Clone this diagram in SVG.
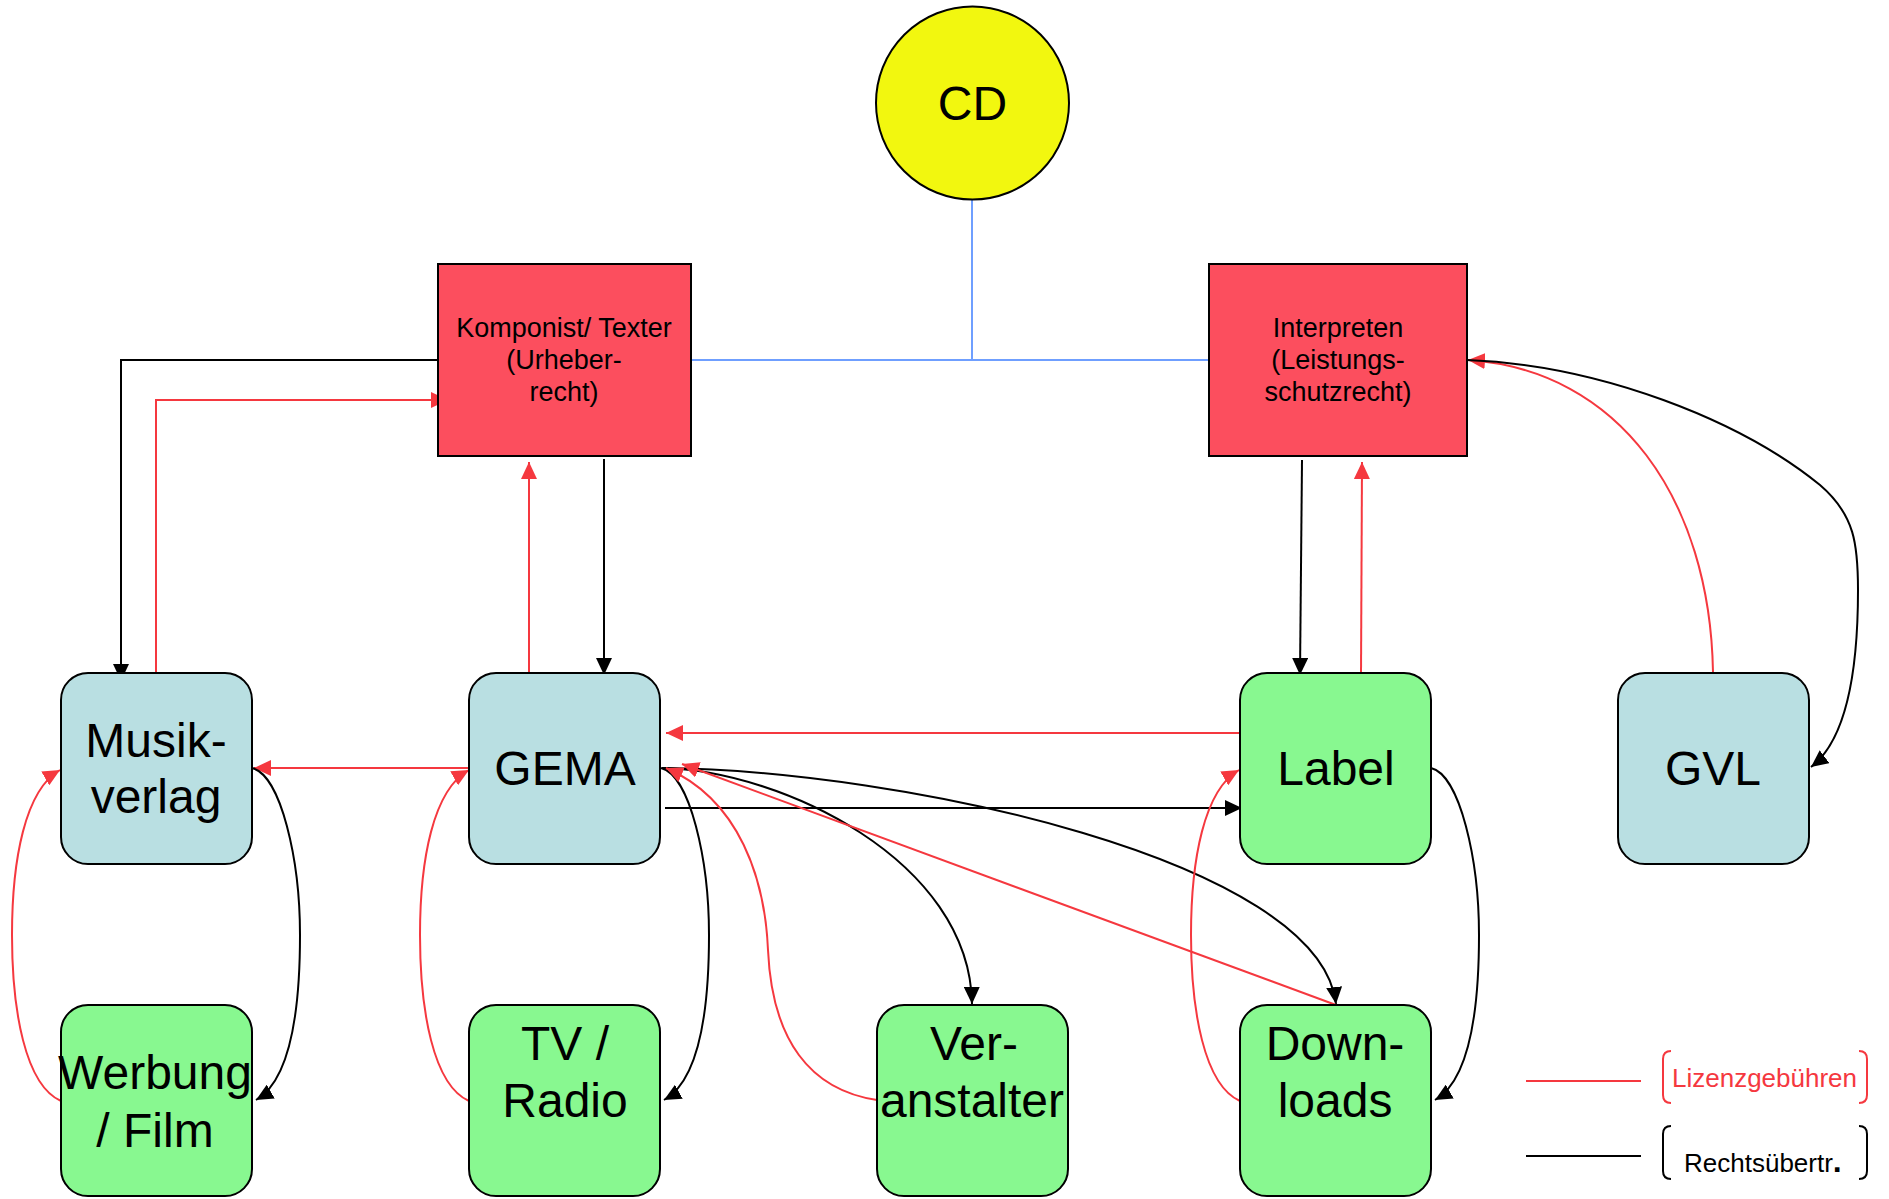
<svg xmlns="http://www.w3.org/2000/svg" width="1889" height="1199" viewBox="0 0 1889 1199">
<defs>
<style>
.t{font-family:"Liberation Sans",Arial,sans-serif;text-anchor:middle;fill:#000}
.big{font-size:48px}
.sm{font-size:27px}
.box{stroke:#000;stroke-width:2}
.blue{fill:#b9dfe2}
.green{fill:#88f890}
.redf{fill:#fc4e5e}
.k{fill:none;stroke:#000;stroke-width:2}
.r{fill:none;stroke:#f5383f;stroke-width:2}
.ka{marker-end:url(#ab)}
.ra{marker-end:url(#ar)}
</style>
<marker id="ab" viewBox="0 0 17 16" refX="17" refY="8" markerWidth="17" markerHeight="16" markerUnits="userSpaceOnUse" orient="auto"><path d="M0,0 L17,8 L0,16 z" fill="#000"/></marker>
<marker id="ar" viewBox="0 0 17 16" refX="17" refY="8" markerWidth="17" markerHeight="16" markerUnits="userSpaceOnUse" orient="auto"><path d="M0,0 L17,8 L0,16 z" fill="#f5383f"/></marker>
</defs>
<rect width="1889" height="1199" fill="#fff"/>

<g id="connectors">
<path d="M972,199 L972,360 M691,360 L1209,360" fill="none" stroke="#6f9fff" stroke-width="2"/>
<path class="k ka" d="M438,360 L121,360 L121,681"/>
<path class="r ra" d="M156,672 L156,400 L448,400"/>
<path class="r ra" d="M529,676 L529,462"/>
<path class="k ka" d="M604,459 L604,675"/>
<path class="k ka" d="M1302,460 L1300,675"/>
<path class="r ra" d="M1361,677 L1362,462"/>
<path class="r ra" d="M1713,672 C1710,500 1620,370 1468,360"/>
<path class="k ka" d="M1467,360 C1600,365 1740,420 1820,485 C1855,515 1858,545 1858,590 C1858,690 1840,745 1811,767"/>
<path class="r ra" d="M1243,733 L666,733"/>
<path class="r ra" d="M468,768 L254,768"/>
<path class="k ka" d="M252,768 C281,775 300,860 300,935 C300,1010 291,1080 256,1100"/>
<path class="r ra" d="M61,1101 C25,1085 12,1010 12,935 C12,860 25,790 60,770"/>
<path class="k ka" d="M661,768 C690,775 709,860 709,935 C709,1010 700,1080 664,1100"/>
<path class="r ra" d="M469,1101 C433,1085 420,1010 420,935 C420,860 433,790 469,770"/>
<path class="k ka" d="M665,808 L1242,808"/>
<path class="k ka" d="M662,768 C780,770 970,860 972,1004"/>
<path class="k ka" d="M662,768 C900,770 1320,860 1336,1004"/>
<path class="r ra" d="M877,1100 C810,1090 772,1040 768,950 C765,880 740,800 666,768"/>
<path class="r ra" d="M1336,1005 L682,764"/>
<path class="k ka" d="M1431,768 C1460,775 1479,860 1479,935 C1479,1010 1470,1080 1435,1100"/>
<path class="r ra" d="M1240,1101 C1204,1085 1191,1010 1191,935 C1191,860 1204,790 1239,770"/>
</g>

<g id="cd">
<circle cx="972.5" cy="103" r="96.5" fill="#f2f70f" class="box"/>
<text class="t" x="972.5" y="120" font-size="48">CD</text>
</g>

<g id="komponist">
<rect x="438" y="264" width="253" height="192" class="box redf"/>
<text class="t sm" x="564" y="337">Komponist/ Texter</text>
<text class="t sm" x="564" y="369">(Urheber-</text>
<text class="t sm" x="564" y="401">recht)</text>
</g>

<g id="interpreten">
<rect x="1209" y="264" width="258" height="192" class="box redf"/>
<text class="t sm" x="1338" y="337">Interpreten</text>
<text class="t sm" x="1338" y="369">(Leistungs-</text>
<text class="t sm" x="1338" y="401">schutzrecht)</text>
</g>

<g id="musikverlag">
<rect x="61" y="673" width="191" height="191" rx="27" class="box blue"/>
<text class="t big" x="156" y="757">Musik-</text>
<text class="t big" x="156" y="813">verlag</text>
</g>

<g id="gema">
<rect x="469" y="673" width="191" height="191" rx="27" class="box blue"/>
<text class="t big" x="565" y="785">GEMA</text>
</g>

<g id="label">
<rect x="1240" y="673" width="191" height="191" rx="27" class="box green"/>
<text class="t big" x="1336" y="785">Label</text>
</g>

<g id="gvl">
<rect x="1618" y="673" width="191" height="191" rx="27" class="box blue"/>
<text class="t big" x="1713" y="785">GVL</text>
</g>

<g id="werbung">
<rect x="61" y="1005" width="191" height="191" rx="27" class="box green"/>
<text class="t big" x="155" y="1089">Werbung</text>
<text class="t big" x="155" y="1147">/ Film</text>
</g>

<g id="tvradio">
<rect x="469" y="1005" width="191" height="191" rx="27" class="box green"/>
<text class="t big" x="565" y="1060">TV /</text>
<text class="t big" x="565" y="1117">Radio</text>
</g>

<g id="veranstalter">
<rect x="877" y="1005" width="191" height="191" rx="27" class="box green"/>
<text class="t big" x="974" y="1060">Ver-</text>
<text class="t big" x="972" y="1117">anstalter</text>
</g>

<g id="downloads">
<rect x="1240" y="1005" width="191" height="191" rx="27" class="box green"/>
<text class="t big" x="1335" y="1060">Down-</text>
<text class="t big" x="1335" y="1117">loads</text>
</g>

<g id="legend">
<path d="M1526,1081 L1641,1081" stroke="#f5383f" stroke-width="2"/>
<path d="M1526,1156 L1641,1156" stroke="#000" stroke-width="2"/>
<path d="M1671,1051 Q1663,1051 1663,1059 L1663,1095 Q1663,1103 1671,1103 M1859,1051 Q1867,1051 1867,1059 L1867,1095 Q1867,1103 1859,1103" fill="none" stroke="#f5383f" stroke-width="2"/>
<path d="M1671,1126 Q1663,1126 1663,1134 L1663,1171 Q1663,1179 1671,1179 M1859,1126 Q1867,1126 1867,1134 L1867,1171 Q1867,1179 1859,1179" fill="none" stroke="#000" stroke-width="2"/>
<text x="1672" y="1087" font-family="Liberation Sans, Arial, sans-serif" font-size="26" fill="#f5383f">Lizenzgebühren</text>
<text x="1684" y="1172" font-family="Liberation Sans, Arial, sans-serif" font-size="26" fill="#000">Rechtsübertr<tspan font-weight="bold" font-size="32">.</tspan></text>
</g>
</svg>
